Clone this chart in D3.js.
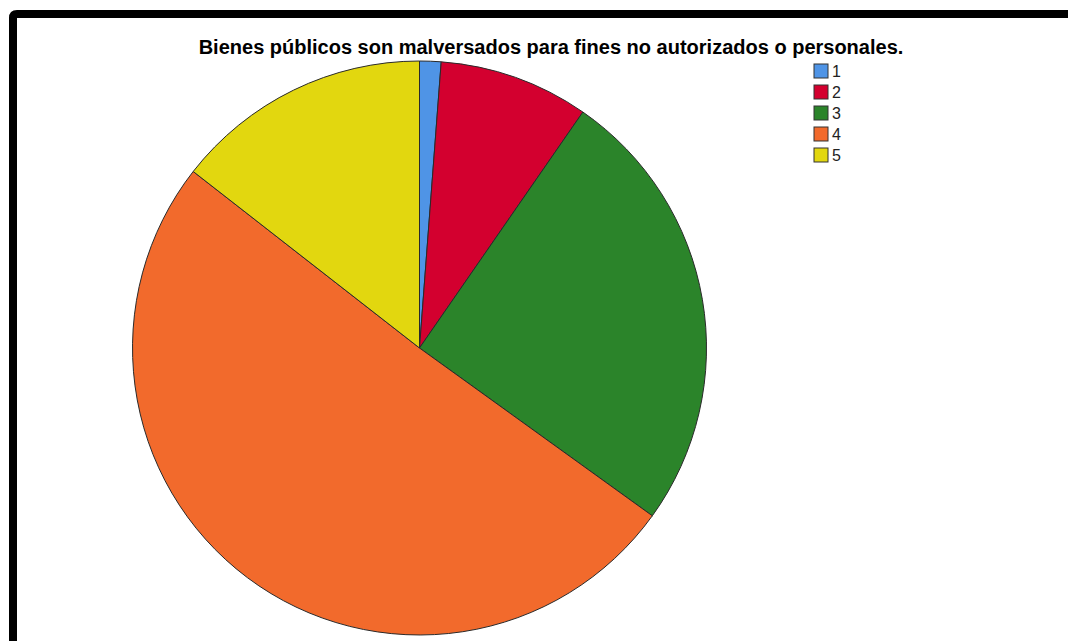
<!DOCTYPE html>
<html>
<head>
<meta charset="utf-8">
<script src="https://cdn.jsdelivr.net/npm/d3@7"></script>
<style>
  html, body { margin: 0; padding: 0; background: #fff; }
  svg { display: block; }
</style>
</head>
<body>
<svg id="chart" width="1068" height="641"></svg>
<script>
// Response categories (Likert scale 1–5) and their counts
const categories = ["1", "2", "3", "4", "5"];
const counts = [1, 7, 21, 42, 12];
const colors = ["#4f94e6", "#d3002f", "#2b842a", "#f26a2c", "#e2d70f"];
const title = "Bienes públicos son malversados para fines no autorizados o personales.";

const svg = d3.select("#chart");
const W = 1068, H = 641;

// white background
svg.append("rect").attr("width", W).attr("height", H).attr("fill", "#fff");

// heavy black frame along the top and left edges
svg.append("path")
  .attr("d", "M13,641 L13,18 Q13,14 17,14 L1068,14")
  .attr("fill", "none")
  .attr("stroke", "#000")
  .attr("stroke-width", 8);

// title
svg.append("text")
  .attr("x", 551)
  .attr("y", 54)
  .attr("text-anchor", "middle")
  .attr("font-family", "'Liberation Sans', Arial, sans-serif")
  .attr("font-weight", "bold")
  .attr("font-size", 20)
  .attr("fill", "#000")
  .text(title);

// pie
const cx = 419.5, cy = 348, r = 287;
const data = categories.map((c, i) => ({ cat: c, value: counts[i], color: colors[i] }));
const pie = d3.pie().value(d => d.value).sort(null);
const arc = d3.arc().innerRadius(0).outerRadius(r);

svg.append("g")
  .attr("transform", `translate(${cx},${cy})`)
  .selectAll("path")
  .data(pie(data))
  .join("path")
  .attr("d", arc)
  .attr("fill", d => d.data.color)
  .attr("stroke", "#2a2a2a")
  .attr("stroke-width", 1);

// legend
const legY = d3.scalePoint().domain(categories).range([71, 155]);
const leg = svg.append("g");
const items = leg.selectAll("g").data(data).join("g")
  .attr("transform", d => `translate(814,${legY(d.cat)})`);
items.append("rect")
  .attr("x", 0).attr("y", -7)
  .attr("width", 14).attr("height", 14)
  .attr("fill", d => d.color)
  .attr("stroke", "#333")
  .attr("stroke-width", 1);
items.append("text")
  .attr("x", 18).attr("y", 6)
  .attr("font-family", "'Liberation Sans', Arial, sans-serif")
  .attr("font-size", 16)
  .attr("fill", "#222")
  .text(d => d.cat);
</script>
</body>
</html>
